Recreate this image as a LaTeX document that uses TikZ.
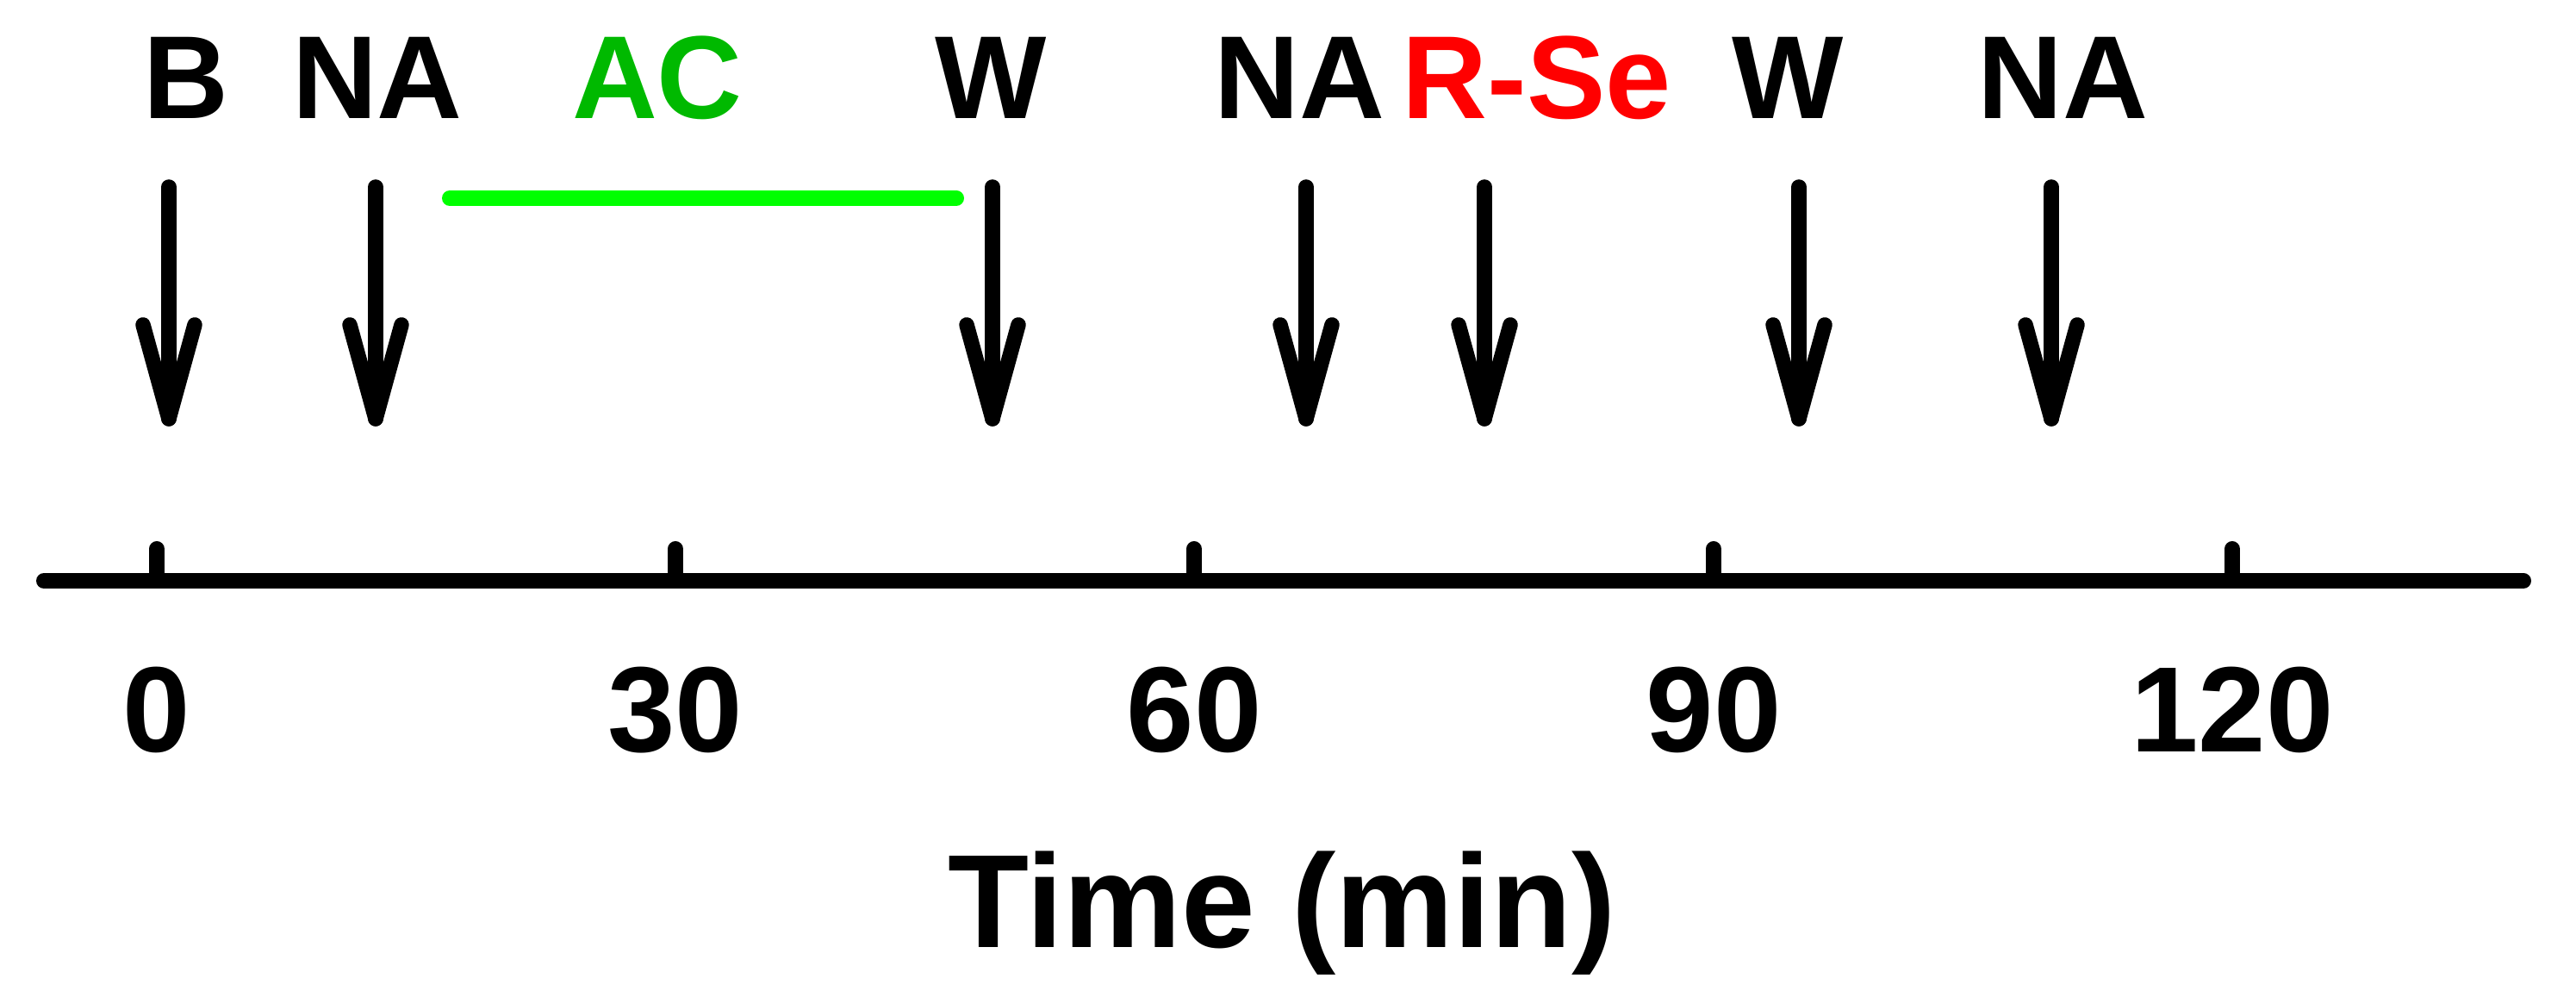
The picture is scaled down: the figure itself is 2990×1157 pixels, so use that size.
\documentclass[tikz,border=0pt]{standalone}
\usepackage{fontspec}
\setmainfont{Liberation Sans}
\definecolor{acgreen}{RGB}{0,185,0}
\definecolor{linegreen}{RGB}{0,255,0}
\definecolor{sered}{RGB}{255,0,0}
\begin{document}
\begin{tikzpicture}[x=0.1pt,y=-0.1pt,
  toplabel/.style={anchor=base,inner sep=0pt,font=\fontsize{13.7}{16}\selectfont\bfseries},
  ticklabel/.style={anchor=base,inner sep=0pt,font=\fontsize{14.1}{16}\selectfont\bfseries},
  axistitle/.style={anchor=base,inner sep=0pt,font=\fontsize{15.4}{18}\selectfont\bfseries},
  shaftline/.style={line width=1.75pt,line cap=round},
  headline/.style={line width=1.75pt,line cap=round,line join=round},
  axisline/.style={line width=1.8pt,line cap=round},
  tickline/.style={line width=1.8pt,line cap=round},
  acline/.style={line width=1.8pt,line cap=round,draw=linegreen}]
\useasboundingbox (0,0) rectangle (2990,1157);
% top labels
\node[toplabel] (lB) at (216,138) {B};
\node[toplabel] (lNA1) at (438,138) {NA};
\node[toplabel,text=acgreen] (lAC) at (763,138) {AC};
\node[toplabel] (lW1) at (1150,138) {W};
\node[toplabel] (lNA2) at (1508,138) {NA};
\node[toplabel,text=sered] (lRSe) at (1784,138) {R-Se};
\node[toplabel] (lW2) at (2075,138) {W};
\node[toplabel] (lNA3) at (2394,138) {NA};
% AC green bar
\coordinate (acL) at (522,230);
\coordinate (acR) at (1110,230);
\draw[acline] (acL) -- (acR);
% arrows
\foreach \n/\x in {b/196, na1/436, w1/1152, na2/1516, rse/1723, w2/2088, na3/2381} {
  \coordinate (\n-top) at (\x,217);
  \coordinate (\n-tip) at (\x,486);
  \coordinate (\n-bl) at (\x-30,377);
  \coordinate (\n-br) at (\x+30,377);
  \draw[shaftline] (\n-top) -- (\n-tip);
  \draw[headline] (\n-bl) -- (\n-tip) -- (\n-br);
}
% axis
\coordinate (axL) at (51,674);
\coordinate (axR) at (2929,674);
\draw[axisline] (axL) -- (axR);
\foreach \n/\x/\t in {t0/182/0, t30/784/30, t60/1386/60, t90/1989/90, t120/2591/120} {
  \coordinate (\n-top) at (\x,637);
  \coordinate (\n-base) at (\x,674);
  \draw[tickline] (\n-top) -- (\n-base);
  \node[ticklabel] (\n-lab) at (\x,873) {\t};
}
\node[axistitle] (title) at (1488,1100) {Time (min)};
\end{tikzpicture}
\end{document}
